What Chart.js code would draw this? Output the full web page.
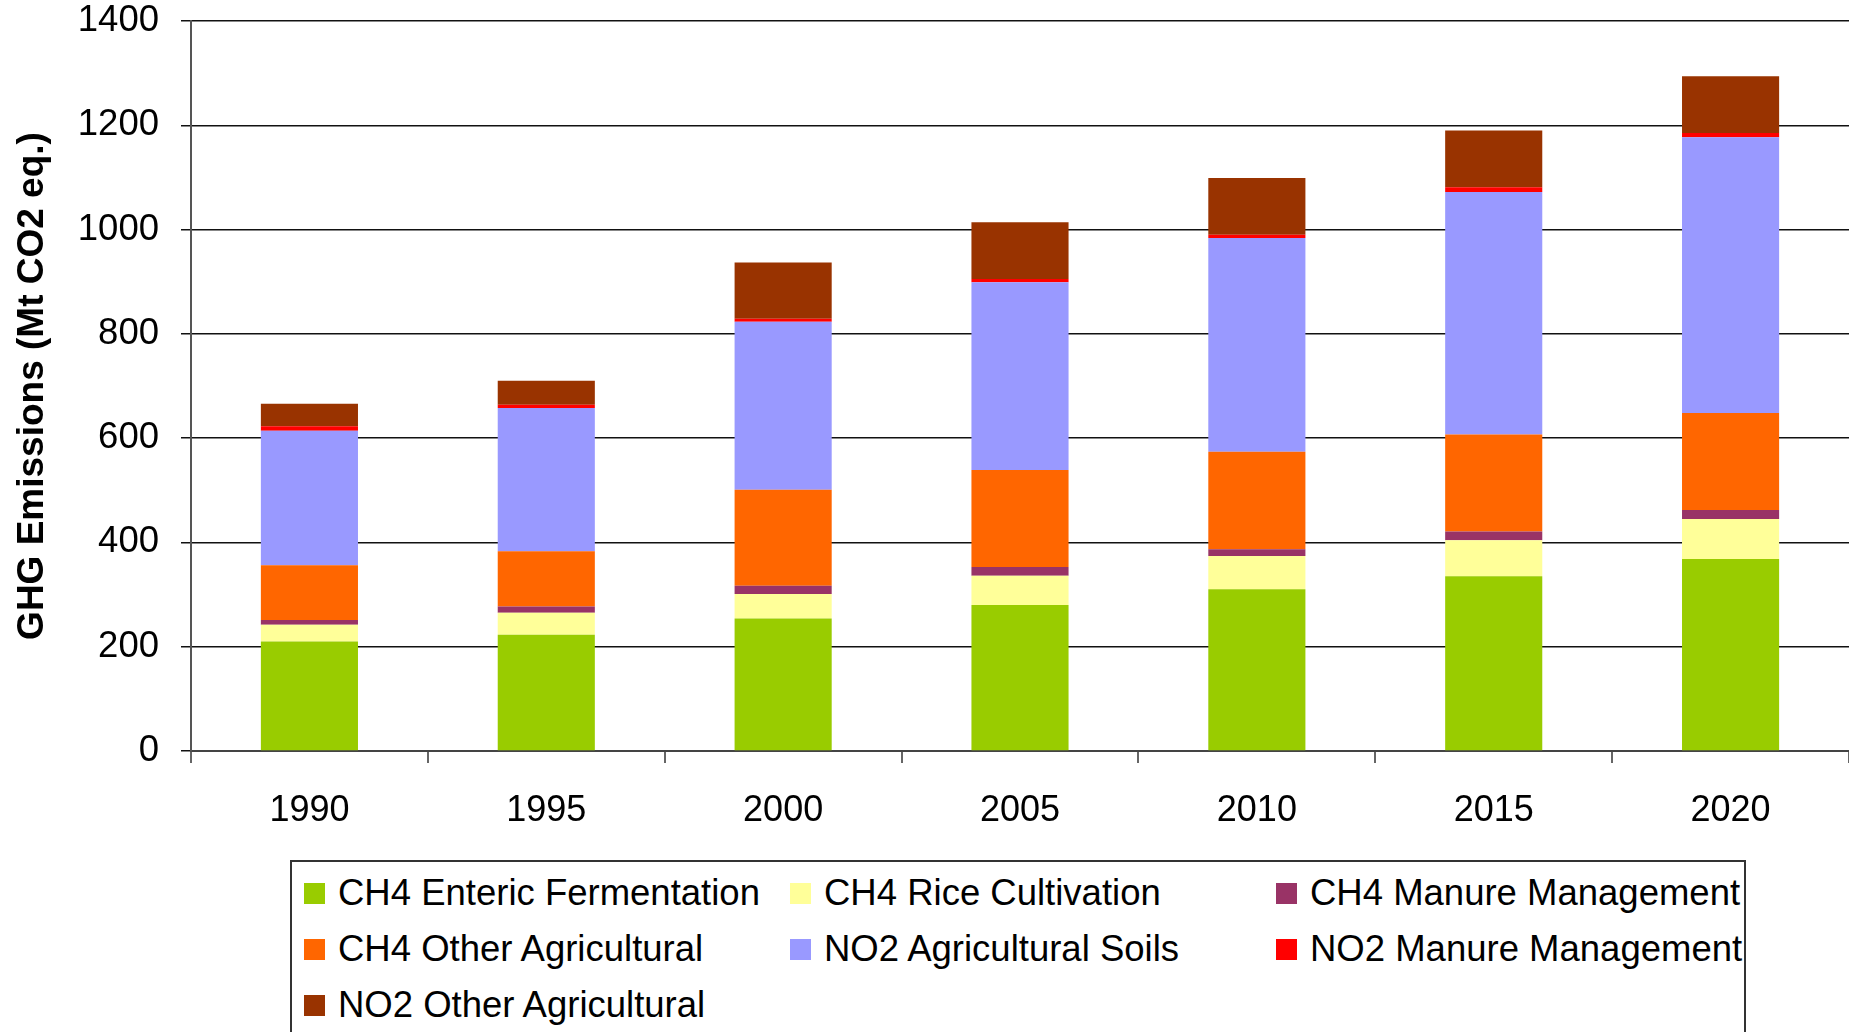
<!DOCTYPE html>
<html>
<head>
<meta charset="utf-8">
<script src="https://cdn.jsdelivr.net/npm/chart.js@4"></script>
<style>
  body { margin: 0; background: #fff; font-family: "Liberation Sans", Arial, sans-serif; overflow: hidden; }
  #wrap { position: absolute; left: 0; top: 0; width: 1849px; height: 860px; }
  #legend {
    position: absolute; left: 290px; top: 860px; width: 1456px; height: 200px;
    border: 2px solid #333; box-sizing: border-box;
    display: grid; grid-template-columns: 486px 486px 486px; grid-auto-rows: 56px;
    padding: 3px 0 0 12px;
  }
  .item { display: flex; align-items: center; font-size: 36.5px; color: #000; white-space: nowrap; }
  .box { width: 21px; height: 21px; margin-right: 13px; flex: none; }
</style>
</head>
<body>
<div id="wrap"><canvas id="ghg"></canvas></div>
<div id="legend"></div>
<script>
// years on the x axis
var years = ['1990', '1995', '2000', '2005', '2010', '2015', '2020'];

// emissions per source, Mt CO2 eq.
var ch4Enteric = [210, 223, 254, 280, 310, 335, 368];
var ch4Rice = [32, 42, 47, 56, 64, 69, 77];
var ch4Manure = [9, 12, 16, 17, 13, 17, 17];
var ch4Other = [105, 106, 184, 186, 187, 186, 186];
var no2Soils = [258, 275, 322, 360, 410, 465, 529];
var no2Manure = [9, 6, 6, 6, 6, 9, 8];
var no2Other = [43, 46, 108, 109, 109, 109, 109];

var series = [
  { label: 'CH4 Enteric Fermentation', data: ch4Enteric, color: '#99CC00' },
  { label: 'CH4 Rice Cultivation', data: ch4Rice, color: '#FFFF99' },
  { label: 'CH4 Manure Management', data: ch4Manure, color: '#993366' },
  { label: 'CH4 Other Agricultural', data: ch4Other, color: '#FF6600' },
  { label: 'NO2 Agricultural Soils', data: no2Soils, color: '#9999FF' },
  { label: 'NO2 Manure Management', data: no2Manure, color: '#FF0000' },
  { label: 'NO2 Other Agricultural', data: no2Other, color: '#993300' }
];

var font = '"Liberation Sans", Arial, sans-serif';

var ctx = document.getElementById('ghg').getContext('2d');
var chart = new Chart(ctx, {
  type: 'bar',
  data: {
    labels: years,
    datasets: series.map(function (s) {
      return {
        label: s.label,
        data: s.data,
        backgroundColor: s.color,
        borderWidth: 0,
        barPercentage: 0.41,
        categoryPercentage: 1
      };
    })
  },
  options: {
    responsive: true,
    maintainAspectRatio: false,
    animation: false,
    layout: { padding: 0 },
    plugins: {
      legend: { display: false },
      tooltip: { enabled: false }
    },
    scales: {
      x: {
        stacked: true,
        afterFit: function (scale) { scale.height = 109; },
        grid: {
          offset: true,
          drawOnChartArea: false,
          color: '#666',
          lineWidth: 2,
          tickLength: 12
        },
        border: { color: '#444', width: 2 },
        ticks: {
          color: '#000',
          padding: 26,
          font: { family: font, size: 36 }
        }
      },
      y: {
        stacked: true,
        min: 0,
        max: 1400,
        afterFit: function (scale) {
          scale.width = 191;
          scale.paddingTop = 21;
          scale.paddingBottom = 0;
        },
        ticks: {
          stepSize: 200,
          color: '#000',
          padding: 22,
          font: { family: font, size: 36.5 },
          callback: function (v) { return String(v); }
        },
        grid: {
          color: '#111',
          lineWidth: 1.5,
          tickLength: 10
        },
        border: { color: '#555', width: 2 },
        title: {
          display: true,
          text: 'GHG Emissions (Mt CO2 eq.)',
          color: '#000',
          padding: { top: 11, bottom: 0 },
          font: { family: font, size: 37, weight: 'bold' }
        }
      }
    }
  }
});

// legend laid out in three fixed columns
var legend = document.getElementById('legend');
series.forEach(function (s) {
  var item = document.createElement('div');
  item.className = 'item';
  var box = document.createElement('span');
  box.className = 'box';
  box.style.background = s.color;
  item.appendChild(box);
  item.appendChild(document.createTextNode(s.label));
  legend.appendChild(item);
});
</script>
</body>
</html>
